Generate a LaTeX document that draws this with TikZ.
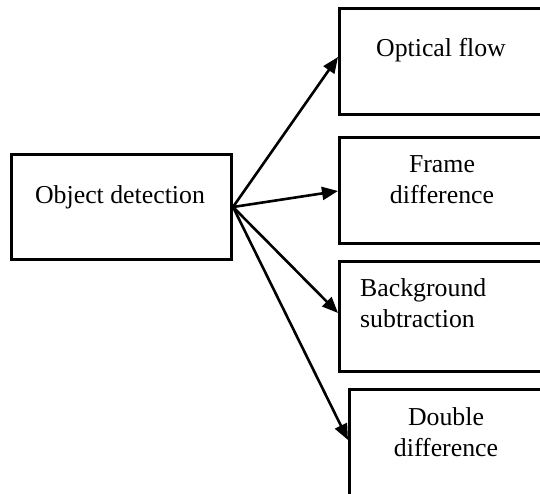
\documentclass[tikz,border=0pt]{standalone}
\usepackage{fontspec}
\setmainfont{Liberation Serif}
\usetikzlibrary{arrows.meta,calc}
\begin{document}
\begin{tikzpicture}[x=1pt,y=-1pt,
  box/.style={draw,line width=3pt,rectangle,inner sep=0pt,anchor=north west},
  lbl/.style={font=\fontsize{25.8}{31}\selectfont,inner sep=0pt},
  arr/.style={line width=2.6pt,-{Triangle[length=16pt,width=13pt]}}]
\useasboundingbox (0,0) rectangle (540,494);
\clip (0,0) rectangle (540,494);
\node[box,minimum width=220pt,minimum height=105pt] (od) at (10,153) {};
\node[box,minimum width=240pt,minimum height=106pt] (of) at (338,7) {};
\node[box,minimum width=240pt,minimum height=106pt] (fd) at (338,136) {};
\node[box,minimum width=240pt,minimum height=110pt] (bs) at (338,260) {};
\node[box,minimum width=240pt,minimum height=130pt] (dd) at (348,388) {};
\node[lbl] (tod) at (120,197) {Object detection};
\node[lbl] (tof) at (441,50) {Optical flow};
\node[lbl,align=center] (tfd) at (442,180) {Frame\\difference};
\node[lbl,align=left,anchor=west] (tbs) at (360,303) {Background\\subtraction};
\node[lbl,align=center] (tdd) at (446,432) {Double\\difference};
\draw[arr] (od.east) -- ($(of.north west)+(0,50)$);
\draw[arr] (od.east) -- ($(fd.north west)+(0,55)$);
\draw[arr] (od.east) -- ($(bs.north west)+(0,53)$);
\draw[arr] (od.east) -- ($(dd.north west)+(0,52)$);
\end{tikzpicture}
\end{document}
